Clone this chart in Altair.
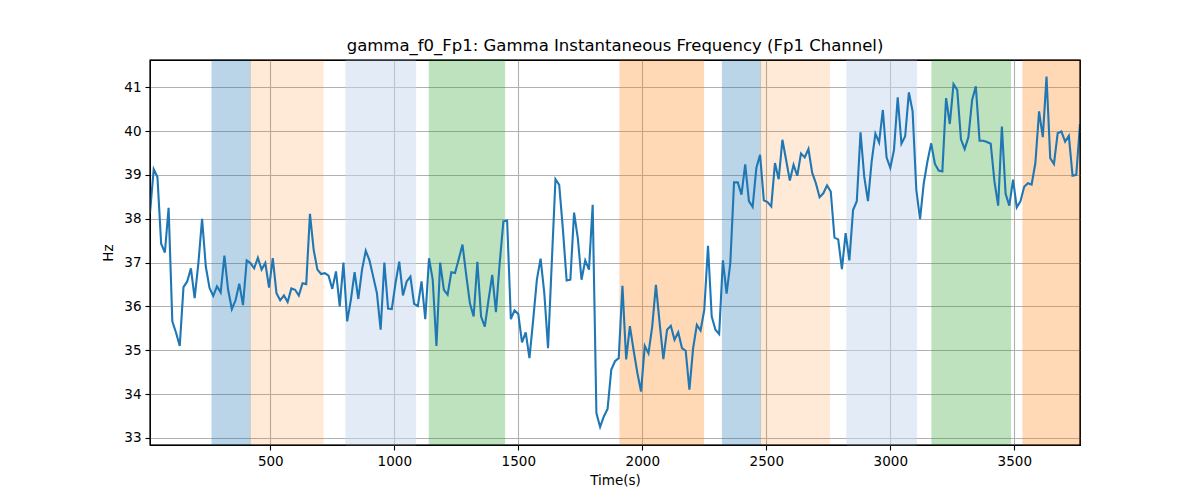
import altair as alt
import pandas as pd

# sample times (s), regular 15 s sampling
times = list(range(15, 3766, 15))

freq_hz = [
    38.13, 39.13, 38.95, 37.43, 37.23, 38.25, 35.66, 35.40, 35.10, 36.44,
    36.57, 36.87, 36.19, 36.98, 38.00, 36.91, 36.42, 36.24, 36.46, 36.32,
    37.16, 36.38, 35.94, 36.14, 36.52, 36.03, 37.05, 36.99, 36.87, 37.11,
    36.84, 36.99, 36.43, 37.10, 36.30, 36.14, 36.25, 36.10, 36.41, 36.38,
    36.25, 36.53, 36.51, 38.11, 37.29, 36.84, 36.74, 36.76, 36.70, 36.40,
    36.80, 36.00, 37.00, 35.66, 36.15, 36.78, 36.17, 36.84, 37.27, 37.05,
    36.68, 36.30, 35.47, 37.00, 35.95, 35.94, 36.53, 37.02, 36.25, 36.57,
    36.68, 36.06, 36.01, 36.57, 35.71, 37.10, 36.61, 35.10, 37.00, 36.38,
    36.27, 36.78, 36.76, 37.08, 37.41, 36.72, 36.07, 35.77, 37.02, 35.77,
    35.54, 36.15, 36.72, 35.87, 36.99, 37.94, 37.96, 35.71, 35.91, 35.83,
    35.18, 35.41, 34.82, 35.69, 36.61, 37.09, 36.30, 35.05, 36.99, 38.90,
    38.77, 37.75, 36.59, 36.61, 38.14, 37.56, 36.61, 37.05, 36.84, 38.32,
    33.57, 33.25, 33.49, 33.66, 34.56, 34.75, 34.82, 36.47, 34.79, 35.55,
    35.00, 34.49, 34.06, 35.10, 34.93, 35.54, 36.49, 35.62, 34.80, 35.47,
    35.56, 35.24, 35.41, 35.05, 34.99, 34.10, 35.05, 35.58, 35.45, 35.92,
    37.38, 35.77, 35.47, 35.37, 37.05, 36.29, 36.99, 38.83, 38.83, 38.55,
    39.24, 38.40, 38.27, 39.16, 39.46, 38.42, 38.38, 38.28, 39.27, 38.90,
    39.80, 39.34, 38.87, 39.23, 38.98, 39.49, 39.40, 39.59, 39.05, 38.81,
    38.49, 38.58, 38.76, 38.62, 37.57, 37.53, 36.85, 37.67, 37.05, 38.20,
    38.40, 39.97, 38.96, 38.40, 39.31, 39.94, 39.74, 40.48, 39.40, 39.16,
    39.57, 40.77, 39.71, 39.88, 40.88, 40.45, 38.66, 37.99, 38.81, 39.31,
    39.72, 39.25, 39.10, 39.08, 40.75, 40.16, 41.07, 40.94, 39.81, 39.59,
    39.86, 40.71, 41.02, 39.78, 39.78, 39.75, 39.71, 38.85, 38.30, 40.10,
    38.57, 38.30, 38.89, 38.26, 38.40, 38.73, 38.81, 38.78, 39.27, 40.45,
    39.86, 41.24, 39.38, 39.25, 39.95, 39.99, 39.76, 39.89, 38.98, 39.00,
    40.16,
]

span_start = [265, 419, 805, 1141, 1910, 2323, 2477, 2825, 3168, 3535]
span_end = [419, 713, 1086, 1445, 2247, 2477, 2755, 3106, 3485, 3765]
span_kind = ["blue", "lorange", "lblue", "green", "orange",
             "blue", "lorange", "lblue", "green", "orange"]

kind_colors = {
    "blue": ("#1f77b4", 0.3),
    "lorange": ("#ff7f0e", 0.16),
    "lblue": ("#c9d9f1", 0.5),
    "green": ("#2ca02c", 0.3),
    "orange": ("#ff7f0e", 0.3),
}

line_df = pd.DataFrame({"t": times, "f": freq_hz})
span_df = pd.DataFrame({
    "start": span_start,
    "end": span_end,
    "color": [kind_colors[k][0] for k in span_kind],
    "op": [kind_colors[k][1] for k in span_kind],
})

FONT = "DejaVu Sans"
PW, PH = 930, 385
xscale = alt.Scale(domain=[15, 3765], nice=False, zero=False)
yscale = alt.Scale(domain=[32.84, 41.62], nice=False, zero=False)

xaxis = alt.Axis(
    title="Time(s)", values=[500, 1000, 1500, 2000, 2500, 3000, 3500],
    format="d", grid=True, gridColor="#b0b0b0", gridWidth=1.1,
    tickColor="black", tickSize=5, tickWidth=1.1, domain=False,
    labelFont=FONT, labelFontSize=13.5, labelColor="black", labelPadding=4,
    titleFont=FONT, titleFontSize=13.5, titleFontWeight="normal",
    titleColor="black", titlePadding=6,
)
yaxis = alt.Axis(
    title="Hz", values=[33, 34, 35, 36, 37, 38, 39, 40, 41],
    format="d", grid=True, gridColor="#b0b0b0", gridWidth=1.1,
    tickColor="black", tickSize=5, tickWidth=1.1, domain=False,
    labelFont=FONT, labelFontSize=13.5, labelColor="black", labelPadding=4,
    titleFont=FONT, titleFontSize=13.5, titleFontWeight="normal",
    titleColor="black", titlePadding=8,
)

spans = alt.Chart(span_df).mark_rect(strokeWidth=1).encode(
    x=alt.X("start:Q", scale=xscale, axis=xaxis),
    x2="end:Q",
    y=alt.value(0),
    y2=alt.value(PH),
    fill=alt.Color("color:N", scale=None),
    stroke=alt.Color("color:N", scale=None),
    opacity=alt.Opacity("op:Q", scale=None),
)

line = alt.Chart(line_df).mark_line(color="#1f77b4", strokeWidth=2.1, clip=True).encode(
    x=alt.X("t:Q", scale=xscale, axis=xaxis),
    y=alt.Y("f:Q", scale=yscale, axis=yaxis),
)

frame = alt.Chart(pd.DataFrame({"a": [0]})).mark_rect(
    filled=False, stroke="black", strokeWidth=1.1
).encode(
    x=alt.value(0), x2=alt.value(PW), y=alt.value(0), y2=alt.value(PH)
)

chart = alt.layer(spans, line, frame).properties(
    width=PW,
    height=PH,
    background="white",
    autosize=alt.AutoSizeParams(type="none"),
    padding={"left": 142, "top": 52, "right": 112, "bottom": 47},
    title=alt.TitleParams(
        "gamma_f0_Fp1: Gamma Instantaneous Frequency (Fp1 Channel)",
        font=FONT, fontSize=16.5, fontWeight="normal", color="black",
        anchor="middle", offset=5,
    ),
).configure_view(stroke="black", strokeWidth=1.1)

chart.save("out.html", embed_options={"renderer": "svg", "actions": False})
